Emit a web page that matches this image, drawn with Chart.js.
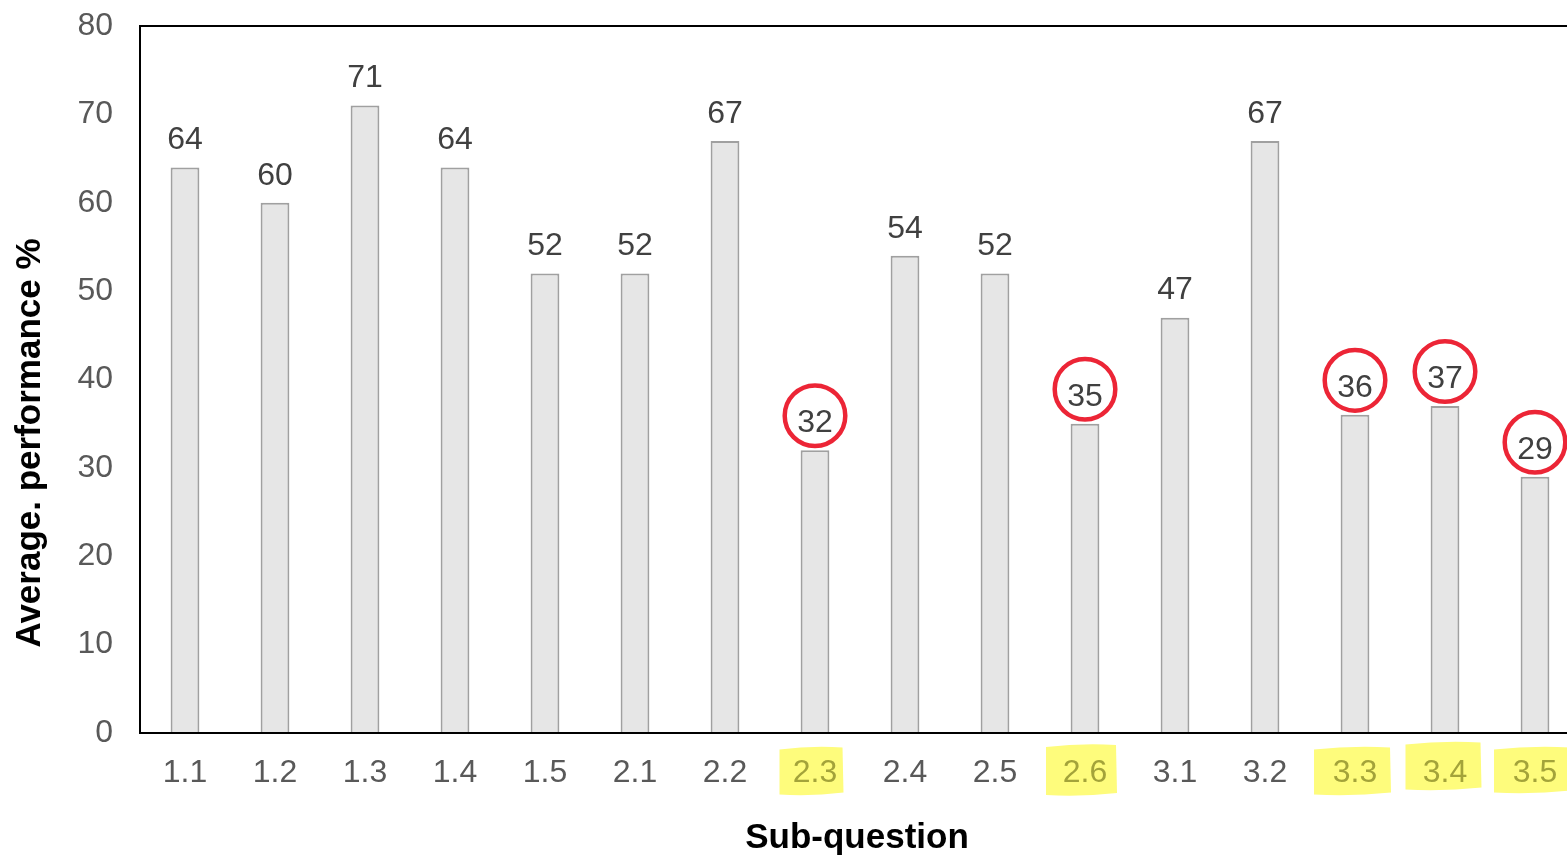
<!DOCTYPE html>
<html>
<head>
<meta charset="utf-8">
<script src="https://cdn.jsdelivr.net/npm/chart.js@4/dist/chart.umd.min.js"></script>
<style>
  html, body { margin: 0; padding: 0; background: #fff; overflow: hidden; }
  #wrap { width: 1567px; height: 856px; overflow: hidden; }
  canvas { display: block; }
</style>
</head>
<body>
<div id="wrap"><canvas id="c" width="1582" height="872"></canvas></div>
<script>
// Sub-questions and their average performance (%)
const subQuestions = ['1.1','1.2','1.3','1.4','1.5','2.1','2.2','2.3','2.4','2.5','2.6','3.1','3.2','3.3','3.4','3.5'];
const avgPerformance = [64, 60, 71, 64, 52, 52, 67, 32, 54, 52, 35, 47, 67, 36, 37, 29];
// Sub-questions singled out (circled value, highlighted label)
const weakSubQuestions = ['2.3', '2.6', '3.3', '3.4', '3.5'];
const yTicks = [0, 10, 20, 30, 40, 50, 60, 70, 80];

const FONT = '"Liberation Sans", Arial, sans-serif';
const isWeak = (i) => weakSubQuestions.includes(subQuestions[i]);

// Hand-drawn looking marker boxes behind the highlighted tick labels
const markerBoxes = {
  '2.3': { dx: -4, dy: 0, w: 63, h: 47 },
  '2.6': { dx: -4, dy: -1, w: 70, h: 50 },
  '3.3': { dx: -3, dy: 0, w: 76, h: 47 },
  '3.4': { dx: -2, dy: -5, w: 75, h: 47 },
  '3.5': { dx: -3, dy: -1, w: 76, h: 45 }
};

const decorations = {
  id: 'decorations',
  beforeDraw(chart) {
    const { ctx } = chart;
    const x = chart.scales.x;
    ctx.save();
    ctx.fillStyle = '#fefc7c';
    subQuestions.forEach((q, i) => {
      const b = markerBoxes[q];
      if (!b) return;
      const cx = x.getPixelForValue(i) + b.dx;
      const cy = 771 + b.dy;
      const l = cx - b.w / 2, r = cx + b.w / 2, t = cy - b.h / 2, bt = cy + b.h / 2;
      ctx.beginPath();
      ctx.moveTo(l, t + 2);
      ctx.quadraticCurveTo(cx, t - 2, r, t);
      ctx.lineTo(r + 1, bt - 2);
      ctx.quadraticCurveTo(cx, bt + 2, l, bt);
      ctx.closePath();
      ctx.fill();
    });
    ctx.restore();
  },
  afterDatasetsDraw(chart) {
    const { ctx, chartArea } = chart;
    const meta = chart.getDatasetMeta(0);
    ctx.save();
    // frame: top, left and bottom lines
    ctx.strokeStyle = '#000';
    ctx.lineWidth = 2;
    ctx.beginPath();
    ctx.moveTo(chartArea.right + 5, chartArea.top);
    ctx.lineTo(chartArea.left, chartArea.top);
    ctx.lineTo(chartArea.left, chartArea.bottom);
    ctx.lineTo(chartArea.right + 5, chartArea.bottom);
    ctx.stroke();

    // value labels above the bars
    ctx.font = '32px ' + FONT;
    ctx.fillStyle = '#404040';
    ctx.textAlign = 'center';
    ctx.textBaseline = 'middle';
    meta.data.forEach((bar, i) => {
      ctx.fillText(String(avgPerformance[i]), bar.x, bar.y - 27);
      if (isWeak(i)) {
        ctx.strokeStyle = '#ec2536';
        ctx.lineWidth = 4.5;
        ctx.beginPath();
        ctx.arc(bar.x, bar.y - 34.5, 30.3, 0, Math.PI * 2);
        ctx.stroke();
      }
    });

    // axis titles
    ctx.fillStyle = '#000';
    ctx.font = 'bold 35px ' + FONT;
    ctx.textBaseline = 'alphabetic';
    ctx.textAlign = 'center';
    ctx.fillText('Sub-question', (chartArea.left + chartArea.right) / 2 - 3, 848);
    ctx.translate(40, 443);
    ctx.rotate(-Math.PI / 2);
    ctx.fillText('Average. performance %', 0, 0);
    ctx.restore();
  }
};

new Chart(document.getElementById('c'), {
  type: 'bar',
  data: {
    labels: subQuestions,
    datasets: [{
      data: avgPerformance,
      backgroundColor: '#e6e6e6',
      borderColor: '#a0a0a0',
      borderWidth: 2,
      barPercentage: 0.32,
      categoryPercentage: 1.0
    }]
  },
  options: {
    responsive: false,
    animation: false,
    devicePixelRatio: 1,
    layout: { padding: { top: 26, right: 2, left: 0, bottom: 0 } },
    plugins: { legend: { display: false }, tooltip: { enabled: false } },
    scales: {
      x: {
        grid: { display: false, drawTicks: false },
        border: { display: false },
        ticks: {
          font: { family: FONT, size: 32 },
          color: (c) => isWeak(c.index) ? '#a3a33a' : '#595959',
          padding: 21,
          maxRotation: 0,
          autoSkip: false
        },
        afterFit: (s) => { s.height = 139; s.paddingLeft = 0; s.paddingRight = 0; }
      },
      y: {
        min: 0,
        max: 80,
        afterBuildTicks: (s) => { s.ticks = yTicks.map(v => ({ value: v })); },
        grid: { display: false, drawTicks: false },
        border: { display: false },
        ticks: {
          font: { family: FONT, size: 32 },
          color: '#595959',
          padding: 27
        },
        afterFit: (s) => { s.width = 140; s.paddingTop = 0; s.paddingBottom = 0; }
      }
    }
  },
  plugins: [decorations]
});
</script>
</body>
</html>
